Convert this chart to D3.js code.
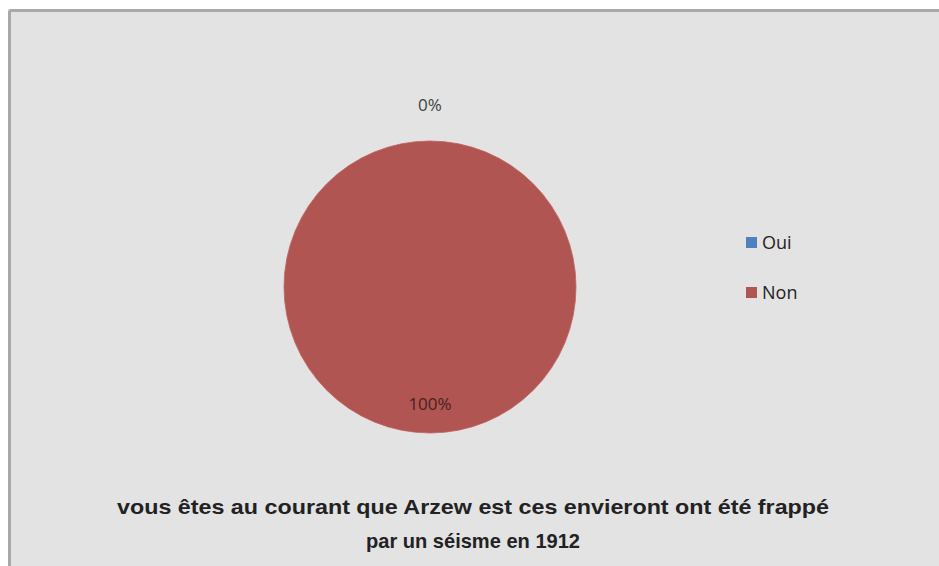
<!DOCTYPE html>
<html>
<head>
<meta charset="utf-8">
<script src="https://cdn.jsdelivr.net/npm/d3@7"></script>
<style>
  body { margin: 0; background: #ffffff; }
  svg { display: block; }
</style>
</head>
<body>
<div class="pie-container"></div>
<script>
const categories = ["Oui", "Non"];
const values = [0, 100];
const colors = ["#4f81bd", "#b05552"];
const titleLines = ["vous êtes au courant  que Arzew est ces envieront ont été frappé", "par un séisme en 1912"];

const chartWidth = 939;
const chartHeight = 566;
const cx = 430;
const cy = 287;
const radius = 146;

let svg = d3.select(".pie-container")
            .append("svg")
            .attr("width", chartWidth)
            .attr("height", chartHeight);

// chart area with the grey frame on top and left
svg.append("rect")
   .attr("x", 8)
   .attr("y", 9)
   .attr("width", chartWidth)
   .attr("height", chartHeight)
   .attr("fill", "#e3e3e3");
svg.append("line")
   .attr("x1", 9.5).attr("y1", 10.5).attr("x2", chartWidth).attr("y2", 10.5)
   .attr("stroke", "#a9a9a9").attr("stroke-width", 3);
svg.append("line")
   .attr("x1", 9.5).attr("y1", 10.5).attr("x2", 9.5).attr("y2", chartHeight)
   .attr("stroke", "#a9a9a9").attr("stroke-width", 3);

const pie = d3.pie().sort(null).value(d => d);
const arcs = pie(values);

const arc = d3.arc().innerRadius(0).outerRadius(radius);
const insideArc = d3.arc().innerRadius(116).outerRadius(116);
const outsideArc = d3.arc().innerRadius(183).outerRadius(183);

const g = svg.append("g").attr("transform", "translate(" + cx + "," + cy + ")");

g.selectAll("path")
 .data(arcs)
 .enter()
 .append("path")
 .attr("d", arc)
 .attr("fill", (d, i) => colors[i])
 .attr("stroke", "#c0625e")
 .attr("stroke-width", 0.8);

g.selectAll(".label")
 .data(arcs)
 .enter()
 .append("text")
 .attr("class", "label")
 .attr("transform", d => "translate(" + (d.value === 0 ? outsideArc : insideArc).centroid(d) + ")")
 .attr("text-anchor", "middle")
 .attr("dominant-baseline", "central")
 .attr("font-family", "Open Sans, sans-serif")
 .attr("font-size", 17)
 .attr("fill", (d, i) => i === 0 ? "#404040" : "#4a2020")
 .text(d => Math.round(d.value) + "%");

// legend
const legend = svg.append("g").attr("transform", "translate(746, 242)");
const items = legend.selectAll("g")
   .data(categories)
   .enter()
   .append("g")
   .attr("transform", (d, i) => "translate(0," + (i * 50) + ")");
items.append("rect")
   .attr("x", 0).attr("y", -5)
   .attr("width", 11).attr("height", 11)
   .attr("fill", (d, i) => colors[i]);
items.append("text")
   .attr("x", 16)
   .attr("y", 0)
   .attr("dominant-baseline", "central")
   .attr("font-family", "Open Sans, sans-serif")
   .attr("font-size", 18)
   .attr("fill", "#222")
   .text(d => d);

// title
svg.selectAll(".title")
   .data(titleLines)
   .enter()
   .append("text")
   .attr("class", "title")
   .attr("x", 473)
   .attr("y", (d, i) => 514 + i * 34)
   .attr("text-anchor", "middle")
   .attr("font-family", "Liberation Sans Narrow, Liberation Sans, sans-serif")
   .attr("font-weight", "bold")
   .attr("font-size", 21)
   .attr("fill", "#222")
   .attr("textLength", (d, i) => i === 0 ? 712 : 214)
   .attr("lengthAdjust", "spacingAndGlyphs")
   .text(d => d);
</script>
</body>
</html>
